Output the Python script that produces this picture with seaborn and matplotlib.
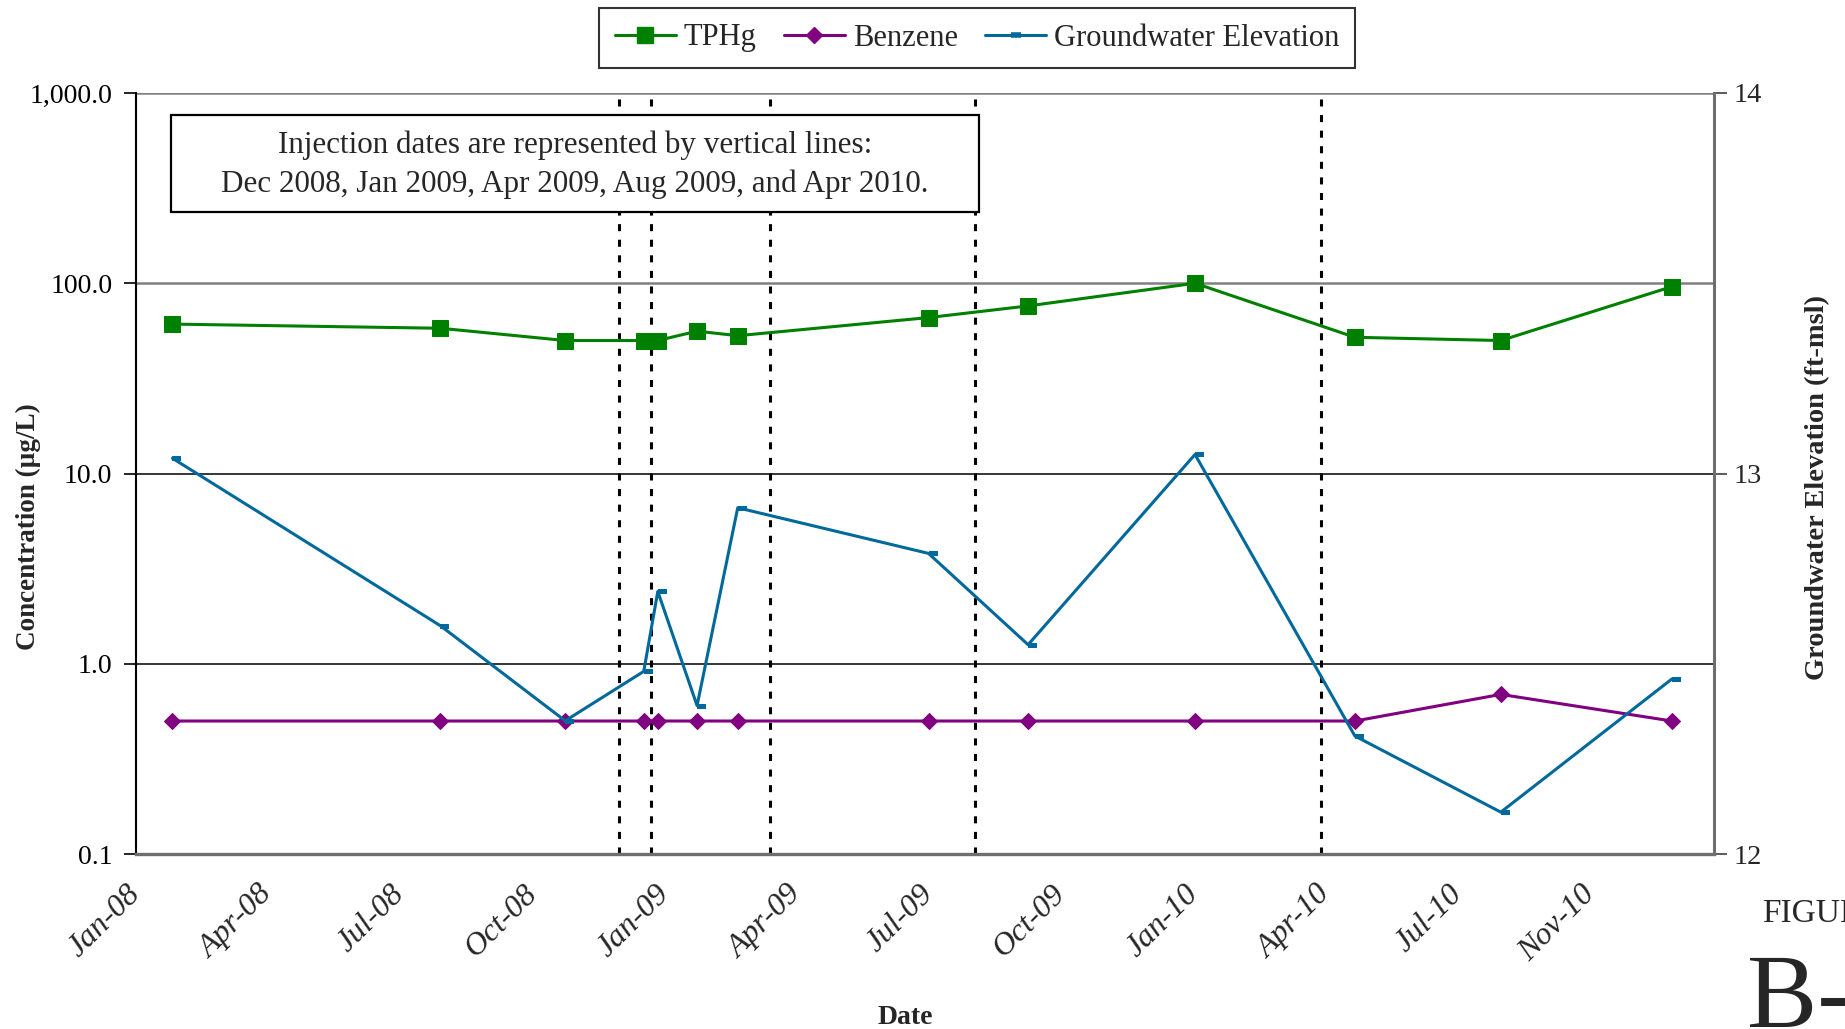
"""TPHg, benzene and groundwater elevation vs date, with injection dates marked."""

import numpy as np
import pandas as pd
import matplotlib
matplotlib.use("Agg")
import matplotlib.pyplot as plt
import matplotlib.dates as mdates
from matplotlib.patches import Rectangle
from matplotlib.path import Path
from matplotlib.lines import Line2D
import seaborn as sns

SAMPLE_DATES = ["2008-01-27", "2008-08-05", "2008-11-02", "2008-12-28", "2009-01-07",
                "2009-02-04", "2009-03-05", "2009-07-19", "2009-09-28", "2010-01-25",
                "2010-05-19", "2010-08-31", "2010-12-31"]
TPHG = [61, 58, 50, 50, 50, 56, 53, 66, 76, 100, 52, 50, 96]
BENZENE = [0.5, 0.5, 0.5, 0.5, 0.5, 0.5, 0.5, 0.5, 0.5, 0.5, 0.5, 0.69, 0.5]
GW_ELEV = [13.04, 12.60, 12.35, 12.48, 12.69, 12.39, 12.91, 12.79, 12.55, 13.05,
           12.31, 12.11, 12.46]
INJECTION_DATES = ["2008-12-10", "2009-01-02", "2009-03-28", "2009-08-21", "2010-04-25"]

X_TICK_LABELS = ["Jan-08", "Apr-08", "Jul-08", "Oct-08", "Jan-09", "Apr-09", "Jul-09",
                 "Oct-09", "Jan-10", "Apr-10", "Jul-10", "Nov-10"]
Y_TICKS = [0.1, 1, 10, 100, 1000]
Y_TICK_LABELS = ["0.1", "1.0", "10.0", "100.0", "1,000.0"]
Y2_TICKS = [12, 13, 14]

GREEN, PURPLE, BLUE = "#008000", "#800080", "#00699c"

sns.set_style("white")
plt.rcParams["font.family"] = ["Liberation Serif", "DejaVu Serif"]

df = pd.DataFrame({
    "date": pd.to_datetime(SAMPLE_DATES),
    "tphg": TPHG,
    "benzene": BENZENE,
    "gw": GW_ELEV,
})

# dash marker sitting just right of the point, like the Excel original
dash = Path([(0, -0.22), (1, -0.22), (1, 0.22), (0, 0.22), (0, -0.22)],
            [Path.MOVETO, Path.LINETO, Path.LINETO, Path.LINETO, Path.CLOSEPOLY])

fig = plt.figure(figsize=(18.45, 10.29), dpi=100)
ax = fig.add_axes([136 / 1845, 1 - 854 / 1029, 1578 / 1845, 761 / 1029])
ax2 = ax.twinx()

sns.lineplot(data=df, x="date", y="tphg", ax=ax, color=GREEN, lw=2.2,
             marker="s", markersize=11, markeredgecolor=GREEN, zorder=4)
sns.lineplot(data=df, x="date", y="benzene", ax=ax, color=PURPLE, lw=2.2,
             marker="D", markersize=8.5, markeredgecolor=PURPLE, zorder=4)
sns.lineplot(data=df, x="date", y="gw", ax=ax2, color=BLUE, lw=2.2,
             marker=dash, markersize=12, markeredgecolor=BLUE, zorder=4)

for d in pd.to_datetime(INJECTION_DATES):
    ax.axvline(d, color="black", lw=2.2, ls=(0, (2.3, 2.8)), zorder=2)

# axis scales
start = pd.Timestamp("2008-01-01")
step = 94.25
x0 = mdates.date2num(start)
ax.set_xlim(x0, x0 + 1125)
ax.set_xticks([x0 + i * step for i in range(len(X_TICK_LABELS))])
ax.set_xticklabels(X_TICK_LABELS, rotation=45, ha="right", va="center",
                   rotation_mode="anchor", fontsize=23, style="italic")

ax.set_yscale("log")
ax.set_ylim(0.1, 1000)
ax.set_yticks(Y_TICKS)
ax.set_yticklabels(Y_TICK_LABELS, fontsize=20)
ax.yaxis.set_minor_locator(matplotlib.ticker.NullLocator())

ax2.set_ylim(12, 14)
ax2.set_yticks(Y2_TICKS)
ax2.set_yticklabels([str(t) for t in Y2_TICKS], fontsize=20.5)

ax.tick_params(axis="x", direction="out", length=9, width=1.2, color="#404040", pad=17)
ax.tick_params(axis="y", direction="out", length=9, width=1.2, color="black", pad=8,
               labelcolor="black")
ax2.tick_params(axis="y", direction="out", length=9, width=1.2, color="#404040", pad=5)

ax.grid(axis="y", color="black", lw=1.1)
ax.grid(axis="x", visible=False)
ax2.grid(False)
for val, gl in zip(Y_TICKS, ax.get_ygridlines()):
    if val >= 100:
        gl.set_color("#808080")
        gl.set_linewidth(1.8)

for a in (ax, ax2):
    a.spines["top"].set_visible(False)
ax.spines["right"].set_visible(False)
ax2.spines["left"].set_visible(False)
ax2.spines["bottom"].set_visible(False)
ax.spines["left"].set_color("black")
ax.spines["left"].set_linewidth(1.5)
ax.spines["bottom"].set_color("#6e6e6e")
ax.spines["bottom"].set_linewidth(2.4)
ax2.spines["right"].set_color("#6e6e6e")
ax2.spines["right"].set_linewidth(2.2)

ax.set_xlabel("Date", fontsize=20, fontweight="bold")
ax.xaxis.set_label_coords((905 - 136) / 1578, (854 - 1005) / 761)
ax.set_ylabel("Concentration (µg/L)", fontsize=19.5, fontweight="bold")
ax.yaxis.set_label_coords((41 - 136) / 1578, (854 - 527) / 761)
ax2.set_ylabel("Groundwater Elevation (ft-msl)", fontsize=20.5, fontweight="bold")
ax2.yaxis.set_label_coords((1805 - 136) / 1578, (854 - 488) / 761)

# note box
ax.add_patch(Rectangle(((171 - 136) / 1578, (854 - 212) / 761), 808 / 1578, 97 / 761,
                       transform=ax.transAxes, facecolor="white", edgecolor="black",
                       lw=1.6, zorder=6))
ax.text((575 - 136) / 1578, (854 - 165) / 761,
        "Injection dates are represented by vertical lines:\n"
        "Dec 2008, Jan 2009, Apr 2009, Aug 2009, and Apr 2010.",
        transform=ax.transAxes, ha="center", va="center", fontsize=22.4,
        linespacing=1.42, zorder=7)

if ax.get_legend():
    ax.get_legend().remove()
if ax2.get_legend():
    ax2.get_legend().remove()

handles = [
    Line2D([], [], color=GREEN, lw=2.2, marker="s", markersize=11, markeredgecolor=GREEN),
    Line2D([], [], color=PURPLE, lw=2.2, marker="D", markersize=8.5, markeredgecolor=PURPLE),
    Line2D([], [], color=BLUE, lw=2.2, marker="_", markersize=7, markeredgewidth=4),
]
leg = fig.legend(handles, ["TPHg", "Benzene", "Groundwater Elevation"],
                 loc="center", bbox_to_anchor=(977 / 1845, 1 - 38 / 1029), ncol=3,
                 fontsize=22, frameon=True, fancybox=False, edgecolor="black",
                 handlelength=2.0, handletextpad=0.25, columnspacing=0.9,
                 borderpad=0.5, borderaxespad=0)
leg.get_frame().set_linewidth(1.5)

fig.text(1762 / 1845, 1 - 922 / 1029, "FIGURE", fontsize=24, va="baseline")
fig.text(1747 / 1845, 1 - 1027 / 1029, "B-3", fontsize=76, va="baseline")

fig.savefig("out.png", dpi=100)
